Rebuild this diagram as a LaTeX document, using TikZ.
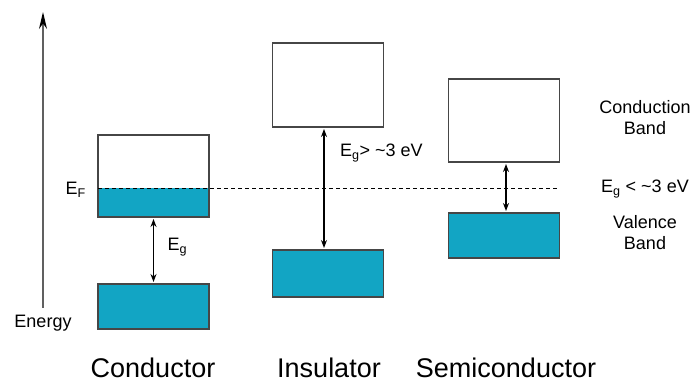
\documentclass[tikz,border=0pt]{standalone}
\usepackage{fontspec}
\setmainfont{Liberation Sans}
\usetikzlibrary{arrows.meta}
\definecolor{bandblue}{RGB}{18,165,196}
\definecolor{edgegray}{RGB}{70,70,70}

\begin{document}
\begin{tikzpicture}[x=1pt,y=1pt,
  band/.style={draw=edgegray,line width=1.6pt,minimum width=111pt,inner sep=0pt,outer sep=0pt},
  emptyband/.style={band,fill=white},
  fullband/.style={band,fill=bandblue},
  gaparrow/.style={{Stealth[length=8pt,width=6pt]}-{Stealth[length=8pt,width=6pt]},line width=1.3pt,shorten <=2pt,shorten >=2pt},
  lbl/.style={font=\fontsize{18}{21}\selectfont,align=center,inner sep=0pt},
  title/.style={font=\fontsize{27}{30}\selectfont,inner sep=0pt}]
\useasboundingbox (0,0) rectangle (694,385);
% energy axis
\coordinate (axisbot) at (43,77);
\coordinate (axistop) at (43,373);
\draw[gray!75!black,line width=1.5pt,-{Stealth[length=17pt,width=8pt,black]}] (axisbot) -- (axistop);
\node[lbl,anchor=base] (energy) at (43,57) {Energy};
% conductor
\node[emptyband,minimum height=82pt,path picture={\fill[bandblue] (path picture bounding box.south west) rectangle ([yshift=29pt]path picture bounding box.south east);}] (cup) at (153.5,209) {};
\node[fullband,minimum height=45pt] (clo) at (153.5,78.5) {};
% insulator
\node[emptyband,minimum height=84pt] (iup) at (328,300) {};
\node[fullband,minimum height=47pt] (ilo) at (328,111.5) {};
% semiconductor
\node[emptyband,minimum height=83pt] (sup) at (504,264.5) {};
\node[fullband,minimum height=45pt] (slo) at (504,149.5) {};
% fermi level
\coordinate (ef) at ([yshift=29pt]cup.south west);
\draw[dashed,line width=0.9pt,dash pattern=on 4pt off 3pt] (ef) -- (ef -| sup.east);
\node[lbl,anchor=base east] (eflabel) at ([xshift=-12pt,yshift=-7pt]ef) {E\textsubscript{F}};
% gaps
\draw[gaparrow] (cup.south) -- (clo.north);
\node[lbl,anchor=west] (cgap) at ([xshift=14pt,yshift=-30pt]cup.south) {E\textsubscript{g}};
\draw[gaparrow] ([xshift=-4pt]iup.south) -- ([xshift=-4pt]ilo.north);
\node[lbl,anchor=west] (igap) at ([xshift=12pt,yshift=-26pt]iup.south) {E\textsubscript{g}> \textasciitilde3 eV};
\draw[gaparrow] ([xshift=2pt]sup.south) -- ([xshift=2pt]slo.north);
% right labels
\node[lbl] (cblabel) at (645,267) {Conduction\\Band};
\node[lbl] (sgap) at (645,196) {E\textsubscript{g} < \textasciitilde3 eV};
\node[lbl] (vblabel) at (645,152) {Valence\\Band};
% titles
\node[title,anchor=base] (ctitle) at (153,7) {Conductor};
\node[title,anchor=base] (ititle) at (329,7) {Insulator};
\node[title,anchor=base] (stitle) at (506,7) {Semiconductor};
\end{tikzpicture}
\end{document}
